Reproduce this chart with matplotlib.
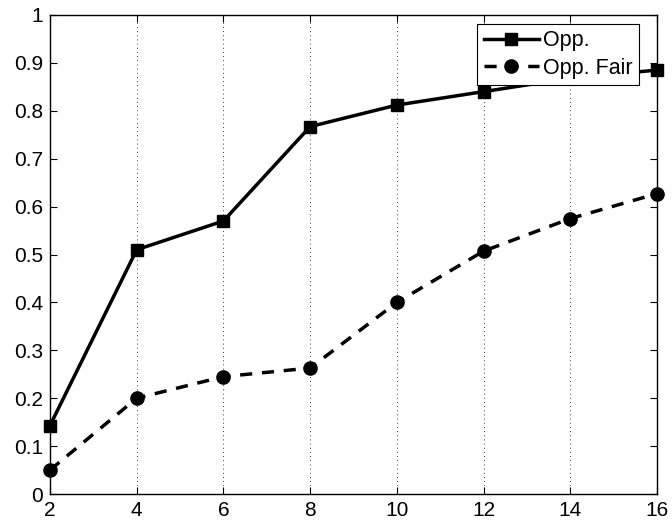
import matplotlib
matplotlib.use("Agg")
import matplotlib.pyplot as plt

plt.rcParams['font.family'] = ['Liberation Sans', 'DejaVu Sans']

x = [2, 4, 6, 8, 10, 12, 14, 16]
opp = [0.143, 0.51, 0.57, 0.767, 0.812, 0.84, 0.868, 0.885]
opp_fair = [0.05, 0.2, 0.245, 0.263, 0.4, 0.507, 0.575, 0.627]
xticks = [2, 4, 6, 8, 10, 12, 14, 16]
yticks = [0, 0.1, 0.2, 0.3, 0.4, 0.5, 0.6, 0.7, 0.8, 0.9, 1]
ytick_labels = ['0', '0.1', '0.2', '0.3', '0.4', '0.5', '0.6', '0.7', '0.8', '0.9', '1']

fig = plt.figure(figsize=(6.72, 5.28), dpi=100)
ax = fig.add_axes([50/672, 34/528, 607/672, 479/528])

ax.plot(x, opp, '-', color='black', lw=2.5, marker='s', markersize=9, label='Opp.', clip_on=False, zorder=3)
ax.plot(x, opp_fair, '--', color='black', lw=2.5, marker='o', markersize=9.5, label='Opp. Fair',
        dashes=(3.5, 2.8), clip_on=False, zorder=3)

ax.set_xlim(2, 16)
ax.set_ylim(0, 1)
ax.set_xticks(xticks)
ax.set_xticklabels([str(t) for t in xticks])
ax.set_yticks(yticks)
ax.set_yticklabels(ytick_labels)
ax.tick_params(direction='in', length=5, labelsize=15, top=True, right=True, width=0.8)
ax.tick_params(axis='x', pad=5)
ax.tick_params(axis='y', pad=5)
ax.xaxis.grid(True, linestyle=(0, (1, 4)), color='black', lw=0.6)
for s in ax.spines.values():
    s.set_linewidth(1.0)

leg = ax.legend(loc='upper right', bbox_to_anchor=(0.97, 0.982), fontsize=15.5, frameon=True,
                fancybox=False, edgecolor='black', framealpha=1, handlelength=2.6,
                borderpad=0.3, labelspacing=0.3, handletextpad=0.15, borderaxespad=0)
leg.get_frame().set_linewidth(0.8)
leg.set_zorder(5)

fig.savefig('out.png', dpi=100)
